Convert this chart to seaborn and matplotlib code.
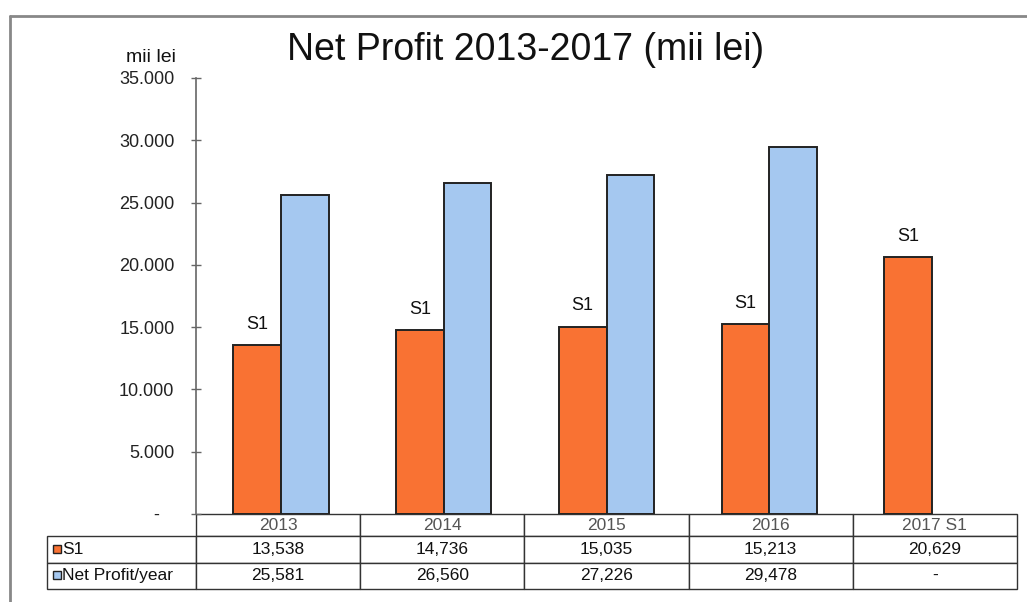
import numpy as np
import pandas as pd
import matplotlib
matplotlib.use('Agg')
import matplotlib.pyplot as plt
import seaborn as sns

# values (mii lei)
years = ['2013', '2014', '2015', '2016', '2017 S1']
s1 = [13538, 14736, 15035, 15213, 20629]
net_profit = [25581, 26560, 27226, 29478, np.nan]
series_names = ['S1', 'Net Profit/year']
yticks = [0, 5000, 10000, 15000, 20000, 25000, 30000, 35000]

orange = '#F97233'
blue = '#A5C8F0'

df = pd.DataFrame({
    'an': years * 2,
    'serie': [series_names[0]] * 5 + [series_names[1]] * 5,
    'val': s1 + net_profit,
})
# keep the empty 2017 slot so the lone S1 bar stays on the left side
df['val'] = df['val'].fillna(0)

sns.set_style('white')
plt.rcParams['font.family'] = ['Liberation Sans', 'DejaVu Sans']

W, H = 1027, 602
fig = plt.figure(figsize=(W / 100, H / 100), dpi=100)
ax = fig.add_axes([196 / W, 1 - 514 / H, (1017 - 196) / W, (514 - 78) / H])

sns.barplot(data=df, x='an', y='val', hue='serie', hue_order=series_names,
            order=years, palette=[orange, blue], width=0.585, edgecolor='#222222',
            linewidth=1.4, saturation=1, legend=False, ax=ax)
for p in ax.containers[1]:
    if p.get_height() == 0:
        p.set_visible(False)

ax.set_ylim(0, 35000)
ax.set_yticks(yticks)
ax.set_yticklabels(['-   '] + [f'{v:,}'.replace(',', '.') for v in yticks[1:]],
                   fontsize=13, color='#222222')
ax.tick_params(axis='y', direction='inout', length=7, width=1, color='#666666', pad=12, left=True)
ax.set_xticks([])
ax.set_xlabel('')
ax.set_ylabel('')
for sp in ['top', 'right', 'bottom']:
    ax.spines[sp].set_visible(False)
ax.spines['left'].set_color('#666666')
ax.spines['left'].set_linewidth(1.2)

# "S1" on top of the orange bars
ax.bar_label(ax.containers[0], labels=['S1'] * len(years), padding=9,
             fontsize=13, color='#111111')

# data table under the plot
cell_text = [['S1'] + [f'{v:,}' for v in s1],
             ['Net Profit/year'] + [f'{v:,}' if not np.isnan(v) else '-' for v in net_profit]]
col_labels = [''] + years
lab_w = 149
cat_w = (1017 - 196) / 5
tbl = ax.table(cellText=cell_text, colLabels=col_labels,
               colWidths=[lab_w] + [cat_w] * 5, cellLoc='center',
               bbox=[(47 - 196) / (1017 - 196), -75 / 436, (1017 - 47) / (1017 - 196), 75 / 436])
tbl.auto_set_font_size(False)
for (r, c), cell in tbl.get_celld().items():
    cell.set_edgecolor('#333333')
    cell.set_linewidth(1.0)
    cell.get_text().set_fontsize(12.5)
    if r == 0:
        cell.set_height(22)
        cell.get_text().set_color('#555555')
    else:
        cell.set_height(26.5)
        cell.get_text().set_color('#111111')
    if c == 0:
        cell.get_text().set_ha('left')
        cell._loc = 'left'
        cell.PAD = 0.1
    if r == 0 and c == 0:
        cell.set_visible(False)

# little legend keys inside the row labels
ax.plot([57 / W], [1 - 549 / H], marker='s', ms=6, mfc=orange, mec='#222222',
        transform=fig.transFigure, clip_on=False)
ax.plot([57 / W], [1 - 575 / H], marker='s', ms=6, mfc=blue, mec='#222222',
        transform=fig.transFigure, clip_on=False)

fig.text(526 / W, 1 - 50 / H, 'Net Profit 2013-2017 (mii lei)', fontsize=27,
         ha='center', va='center', color='#111111')
fig.text(176 / W, 1 - 58 / H, 'mii lei', fontsize=14, ha='right', va='center', color='#111111')

# outer chart frame (top and left edges visible)
fig.add_artist(plt.Line2D([10 / W, 1], [1 - 16 / H, 1 - 16 / H], color='#888888', lw=2))
fig.add_artist(plt.Line2D([10 / W, 10 / W], [0, 1 - 16 / H], color='#888888', lw=2))

fig.savefig('out.png', dpi=100)
